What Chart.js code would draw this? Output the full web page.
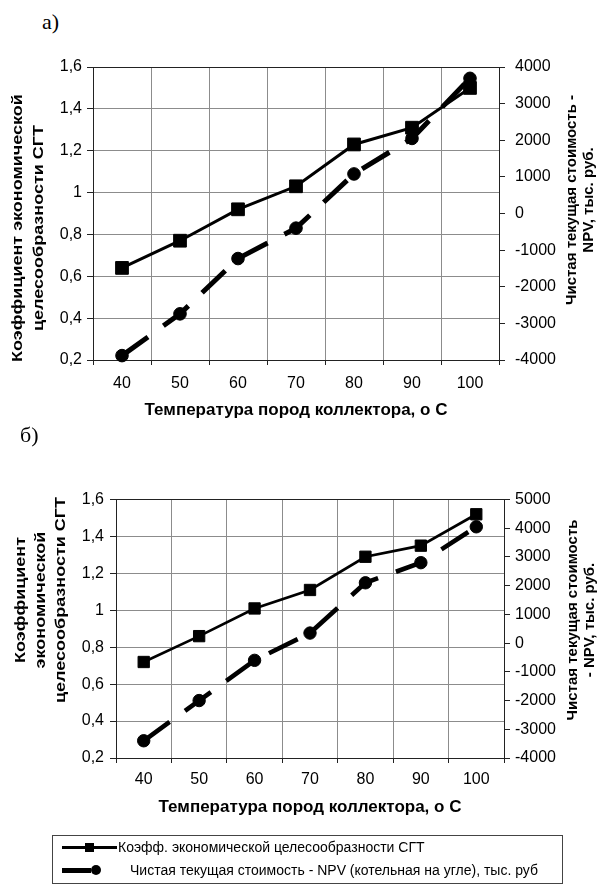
<!DOCTYPE html>
<html lang="ru">
<head>
<meta charset="utf-8">
<title>Коэффициент экономической целесообразности СГТ и NPV</title>
<script src="https://cdn.jsdelivr.net/npm/chart.js@4.4.1/dist/chart.umd.min.js"></script>
<style>
  html, body { margin: 0; padding: 0; background: #fff; }
  #page { position: relative; width: 603px; height: 884px; overflow: hidden; font-family: "Liberation Sans", Arial, sans-serif; }
  #page canvas { position: absolute; left: 0; }
  #chartA { top: 0; }
  #chartB { top: 440px; }
  .panel-label { position: absolute; font-family: "Liberation Serif", "Times New Roman", serif; font-size: 22px; color: #000; line-height: 1; }
  #labelA { left: 42px; top: 11px; }
  #labelB { left: 20px; top: 424px; }
  #legend { position: absolute; left: 52px; top: 835px; width: 509px; height: 47px; border: 1px solid #444; }
  #legend .row { position: absolute; left: 0; height: 22px; line-height: 22px; font-size: 14px; color: #000; white-space: nowrap; }
  #legend .sym { position: absolute; top: 0; height: 22px; }
  #legend .ln { position: absolute; background: #000; }
  #legend .mk { position: absolute; background: #000; }
  #legend .txt { position: absolute; top: 0; }
</style>
</head>
<body>
<div id="page">
  <div class="panel-label" id="labelA">а)</div>
  <canvas id="chartA" width="603" height="430"></canvas>
  <div class="panel-label" id="labelB">б)</div>
  <canvas id="chartB" width="603" height="390"></canvas>
  <div id="legend"></div>
</div>
<script>
'use strict';

// categories
const temperatures = ['40', '50', '60', '70', '80', '90', '100'];

// а)
const koefA = [0.64, 0.77, 0.92, 1.03, 1.23, 1.31, 1.50];
const npvA = [-3880, -2740, -1230, -400, 1080, 2050, 3690];

// б)
const koefB = [0.72, 0.86, 1.01, 1.11, 1.29, 1.35, 1.52];
const npvB = [-3400, -2000, -600, 350, 2100, 2800, 4050];

// axis ranges: min, max, step
const koefRange = [0.2, 1.6, 0.2];
const npvRangeA = [-4000, 4000, 1000];
const npvRangeB = [-4000, 5000, 1000];

const seriesNames = [
    'Коэфф. экономической целесообразности СГТ',
    'Чистая текущая стоимость - NPV (котельная на угле), тыс. руб'
];
const xTitle = 'Температура пород коллектора, о С';
const leftTitleA = ['Коэффициент экономической', 'целесообразности СГТ'];
const rightTitleA = ['Чистая текущая стоимость -', 'NPV, тыс. руб.'];
const leftTitleB = ['Коэффициент', 'экономической', 'целесообразности СГТ'];
const rightTitleB = ['Чистая текущая стоимость', '- NPV, тыс. руб.'];

const FONT = '"Liberation Sans", Arial, sans-serif';
const GRID = '#8c8c8c';
const AXIS = '#222';

Chart.defaults.font.family = FONT;
Chart.defaults.color = '#000';

// rotated (bottom-to-top) axis titles, Excel style
const sideTitles = {
    id: 'sideTitles',
    afterDraw(chart, args, opts) {
        const ctx = chart.ctx;
        (opts.items || []).forEach(it => {
            ctx.save();
            ctx.font = 'bold ' + it.size + 'px ' + FONT;
            ctx.fillStyle = '#000';
            ctx.textAlign = 'center';
            ctx.textBaseline = 'middle';
            it.lines.forEach((line, i) => {
                ctx.save();
                ctx.translate(it.x[i], it.y);
                ctx.rotate(-Math.PI / 2);
                ctx.scale(1, it.squash || 1);
                ctx.fillText(line, 0, 0);
                ctx.restore();
            });
            ctx.restore();
        });
    }
};

function koefLabel(v) {
    return (Math.round(v * 10) / 10).toString().replace('.', ',');
}

function makeChart(id, koef, npv, npvRange, g) {
    const ctx = document.getElementById(id);
    return new Chart(ctx, {
        type: 'line',
        data: {
            labels: temperatures,
            datasets: [{
                label: seriesNames[0],
                data: koef,
                yAxisID: 'y',
                borderColor: '#000',
                backgroundColor: '#000',
                borderWidth: g.lw1,
                pointStyle: 'rect',
                pointRadius: g.sqR,
                pointBorderWidth: 1,
                tension: 0,
                clip: false
            }, {
                label: seriesNames[1],
                data: npv,
                yAxisID: 'y1',
                borderColor: '#000',
                backgroundColor: '#000',
                borderWidth: g.lw2,
                borderDash: [32, 19],
                borderCapStyle: 'butt',
                pointStyle: 'circle',
                pointRadius: g.circR,
                pointBorderWidth: 1,
                tension: 0,
                clip: false
            }]
        },
        options: {
            responsive: false,
            animation: false,
            events: [],
            layout: { padding: { top: g.top, left: 0, right: 0, bottom: 0 } },
            plugins: {
                legend: { display: false },
                tooltip: { enabled: false },
                sideTitles: {
                    items: [
                        { lines: g.leftTitle, x: g.leftX, y: g.leftY, size: 18, squash: 0.8 },
                        { lines: g.rightTitle, x: g.rightX, y: g.rightY, size: 15 }
                    ]
                }
            },
            scales: {
                x: {
                    type: 'category',
                    offset: true,
                    grid: { offset: true, color: GRID, lineWidth: 1, tickLength: 5, tickColor: AXIS },
                    border: { display: true, color: AXIS, width: 1 },
                    ticks: { font: { size: 16 }, color: '#000', padding: g.xTickPad, maxRotation: 0 },
                    title: {
                        display: true,
                        text: xTitle,
                        color: '#000',
                        font: { size: 17, weight: 'bold' },
                        padding: { top: 0, bottom: g.xTitlePad }
                    },
                    afterFit: s => { s.height = g.xH; }
                },
                y: {
                    position: 'left',
                    min: koefRange[0],
                    max: koefRange[1],
                    ticks: {
                        stepSize: koefRange[2],
                        callback: koefLabel,
                        font: { size: 16 },
                        color: '#000',
                        padding: g.leftPad
                    },
                    grid: {
                        color: c => (c.tick && c.tick.value > koefRange[1] - 0.01) ? AXIS : GRID,
                        tickColor: AXIS,
                        tickLength: 6
                    },
                    border: { color: AXIS },
                    afterFit: s => { s.width = g.leftW; }
                },
                y1: {
                    position: 'right',
                    min: npvRange[0],
                    max: npvRange[1],
                    ticks: {
                        stepSize: npvRange[2],
                        callback: v => String(v),
                        font: { size: 16 },
                        color: '#000',
                        padding: g.rightPad
                    },
                    grid: { drawOnChartArea: false, color: AXIS, tickLength: 6 },
                    border: { color: AXIS },
                    afterFit: s => { s.width = g.rightW; }
                }
            }
        },
        plugins: [sideTitles]
    });
}

makeChart('chartA', koefA, npvA, npvRangeA, {
    top: 67, leftW: 93, rightW: 104, xH: 70,
    xTickPad: 9, xTitlePad: 9, leftPad: 5, rightPad: 10,
    lw1: 3, lw2: 5, sqR: 9, circR: 6.3,
    leftTitle: leftTitleA, leftX: [18, 39], leftY: 228,
    rightTitle: rightTitleA, rightX: [572, 589], rightY: 200
});

makeChart('chartB', koefB, npvB, npvRangeB, {
    top: 59.5, leftW: 116, rightW: 99, xH: 72,
    xTickPad: 7, xTitlePad: 12, leftPad: 6, rightPad: 5,
    lw1: 2.7, lw2: 4.6, sqR: 8, circR: 6.2,
    leftTitle: leftTitleB, leftX: [21, 41, 61], leftY: 160,
    rightTitle: rightTitleB, rightX: [573, 590], rightY: 180
});

// shared legend under panel б)
(function buildLegend() {
    const box = document.getElementById('legend');
    const syms = [
        '<i class="ln" style="left:9px;width:55px;top:10px;height:3px"></i>' +
        '<i class="mk" style="left:32px;top:7px;width:9px;height:9px"></i>',
        '<i class="ln" style="left:9px;width:29px;top:9px;height:5px"></i>' +
        '<i class="mk" style="left:38px;top:6px;width:10px;height:10px;border-radius:50%"></i>'
    ];
    const textLeft = [65, 77];
    seriesNames.forEach((name, i) => {
        const row = document.createElement('div');
        row.className = 'row';
        row.style.top = (i * 23) + 'px';
        row.style.width = '509px';
        row.innerHTML = '<span class="sym">' + syms[i] + '</span>' +
            '<span class="txt" style="left:' + textLeft[i] + 'px">' + name + '</span>';
        box.appendChild(row);
    });
})();
</script>
</body>
</html>
